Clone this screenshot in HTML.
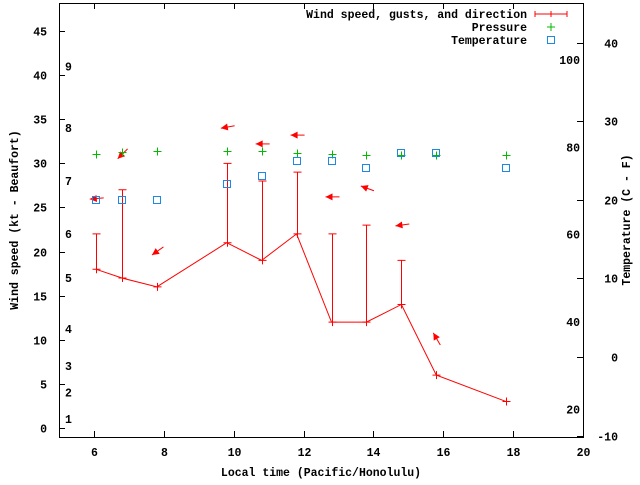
<!DOCTYPE html>
<html><head><meta charset="utf-8"><style>
body{margin:0;background:#fff}
svg text{font-family:"Liberation Mono",monospace;font-weight:bold;font-size:11.5px;fill:#000}
</style></head><body>
<svg id="chart" width="640" height="480" xmlns="http://www.w3.org/2000/svg">
<g id="axes"></g>
<g id="marks"></g>
<g id="legend">
<text x="527" y="18" text-anchor="end">Wind speed, gusts, and direction</text>
<line x1="535" y1="14" x2="567" y2="14" stroke="#f00"/>
<line x1="535" y1="11" x2="535" y2="17" stroke="#f00"/><line x1="567" y1="11" x2="567" y2="17" stroke="#f00"/><line x1="551" y1="11" x2="551" y2="17" stroke="#f00"/>
<text x="527" y="31" text-anchor="end">Pressure</text>
<path d="M547 27h8M551 23v8" stroke="#0b0"/>
<text x="527" y="44" text-anchor="end">Temperature</text>
<rect x="547.5" y="36.5" width="7" height="7" fill="none" stroke="#1e88e5"/>
</g>
</svg>
<script>
const times=[6.05,6.8,7.8,9.8,10.8,11.8,12.8,13.8,14.8,15.8,17.8];
const wind=[18,17,16,21,19,22,12,12,14,6,3];
const gusts=[22,27,null,30,28,29,22,23,19,null,null];
const pressure=[31.1,31.3,31.4,31.4,31.4,31.2,31.1,31.0,30.9,30.9,31.0];
const tempC=[20,20,20,22,23,25,25,24,26,26,24];
const arrowY=[26,31,20,34.1,32.2,33.2,26.2,27.2,23,10.2];
const arrowDir=[185,225,215,190,180,180,180,160,188,120];
const xTicks=[6,8,10,12,14,16,18,20];
const yTicks=[0,5,10,15,20,25,30,35,40,45];
const cTicks=[-10,0,10,20,30,40];
const fTicks=[20,40,60,80,100];
const beaufort=[[1,1],[2,4],[3,7],[4,11.2],[5,17],[6,22],[7,28],[8,34],[9,41]];
const L=59,R=583,T=3,B=437;
const X=v=>94+(v-6)*(583-94)/14;
const Y=v=>428-v*(397/45);
const YC=c=>357-c*7.86;
const YF=f=>YC((f-32)*5/9);
const NS="http://www.w3.org/2000/svg";
function mk(p,t,a){const e=document.createElementNS(NS,t);for(const k in a)e.setAttribute(k,a[k]);p.appendChild(e);return e;}
const ax=document.getElementById('axes'),mg=document.getElementById('marks');
let r=mk(ax,'rect',{x:L+.5,y:T+.5,width:R-L,height:B-T,fill:'none',stroke:'#000'});


xTicks.forEach(v=>{const x=Math.round(X(v))+.5;
mk(ax,'path',{d:`M${x} ${B}v-6M${x} ${T}v6`,stroke:'#000'});
const t=mk(ax,'text',{x:x,y:B+19,'text-anchor':'middle'});t.textContent=v;

});
yTicks.forEach(v=>{const y=Math.round(Y(v))+.5;
mk(ax,'path',{d:`M${L} ${y}h6`,stroke:'#000'});
const t=mk(ax,'text',{x:47,y:y+4,'text-anchor':'end'});t.textContent=v;

});
cTicks.forEach(v=>{const y=Math.round(YC(v))+.5;
mk(ax,'path',{d:`M${R} ${y}h-6`,stroke:'#000'});
const t=mk(ax,'text',{x:618,y:y+4,'text-anchor':'end'});t.textContent=v;

});
fTicks.forEach(v=>{const t=mk(ax,'text',{x:580,y:YF(v)+4,'text-anchor':'end'});t.textContent=v;

});
beaufort.forEach(b=>{const t=mk(ax,'text',{x:65,y:Y(b[1])+4});t.textContent=b[0];

});
let t=mk(ax,'text',{x:321,y:476,'text-anchor':'middle'});t.textContent='Local time (Pacific/Honolulu)';


t=mk(ax,'text',{x:0,y:0,'text-anchor':'middle',transform:'translate(18,220) rotate(-90)'});t.textContent='Wind speed (kt - Beaufort)';


t=mk(ax,'text',{x:0,y:0,'text-anchor':'middle',transform:'translate(630,220) rotate(-90)'});t.textContent='Temperature (C - F)';


// wind line
let p=mk(mg,'polyline',{points:times.map((v,i)=>X(v)+','+Y(wind[i])).join(' '),fill:'none',stroke:'#f00'});


times.forEach((v,i)=>{const x=Math.round(X(v))+.5,y=Y(wind[i]);
const m=mk(mg,'path',{d:`M${x-4} ${y}h8M${x} ${y-4}v8`,stroke:'#f00'});


if(gusts[i]!=null){const g=Y(gusts[i]);
const e=mk(mg,'path',{d:`M${x} ${y}V${g}M${x-4} ${g}h8`,stroke:'#f00'});

}});
arrowY.forEach((a,i)=>{const x=X(times[i]),y=Y(a),ang=arrowDir[i]*Math.PI/180;
const dx=Math.cos(ang),dy=-Math.sin(ang);
const hx=x+dx*(-6),hy=y+dy*(-6),tx=x-dx*(-8),ty=y-dy*(-8);
const hx2=x+dx*6,hy2=y+dy*6,tx2=x-dx*8,ty2=y-dy*8;
const px=-dy,py=dx;
const g=mk(mg,'g',{});


mk(g,'line',{x1:tx2,y1:ty2,x2:hx2,y2:hy2,stroke:'#f00'});
const bx=hx2-dx*7,by=hy2-dy*7;
mk(g,'polygon',{points:`${hx2},${hy2} ${bx+px*3.5},${by+py*3.5} ${bx-px*3.5},${by-py*3.5}`,fill:'#f00'});});
pressure.forEach((v,i)=>{const x=Math.round(X(times[i]))+.5,y=Math.round(Y(v))+.5;
const m=mk(mg,'path',{d:`M${x-4} ${y}h8M${x} ${y-4}v8`,stroke:'#0b0'});

});
tempC.forEach((v,i)=>{const x=Math.round(X(times[i])),y=Math.round(YC(v));
const m=mk(mg,'rect',{x:x-3.5,y:y-3.5,width:7,height:7,fill:'none',stroke:'#1e88e5'});

});
</script>
</body></html>
